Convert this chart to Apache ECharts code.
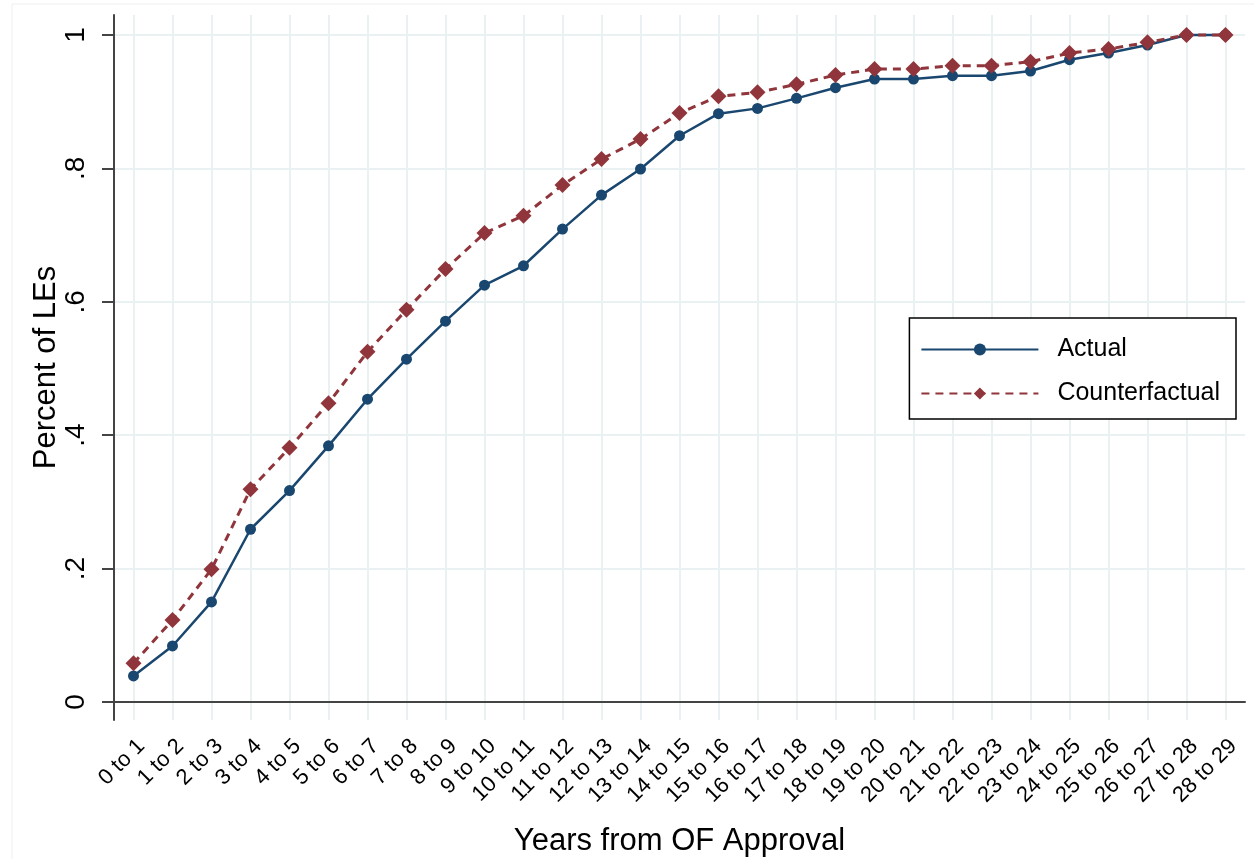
<!DOCTYPE html>
<html>
<head>
<meta charset="utf-8">
<script src="https://cdn.jsdelivr.net/npm/echarts@6/dist/echarts.min.js"></script>
<style>
html,body{margin:0;padding:0;background:#fff;}
#c{width:1254px;height:859px;}
</style>
</head>
<body>
<div id="c"></div>
<script>
const categories = ["0 to 1","1 to 2","2 to 3","3 to 4","4 to 5","5 to 6","6 to 7","7 to 8","8 to 9","9 to 10","10 to 11","11 to 12","12 to 13","13 to 14","14 to 15","15 to 16","16 to 17","17 to 18","18 to 19","19 to 20","20 to 21","21 to 22","22 to 23","23 to 24","24 to 25","25 to 26","26 to 27","27 to 28","28 to 29"];
const actual = [0.039,0.084,0.150,0.259,0.317,0.384,0.454,0.514,0.571,0.625,0.654,0.709,0.760,0.799,0.849,0.882,0.890,0.905,0.921,0.934,0.934,0.939,0.939,0.946,0.963,0.973,0.985,1.0,1.0];
const counterfactual = [0.058,0.123,0.199,0.319,0.381,0.448,0.525,0.588,0.649,0.703,0.729,0.775,0.814,0.844,0.883,0.908,0.914,0.926,0.940,0.949,0.949,0.954,0.954,0.960,0.973,0.979,0.989,1.0,1.0];
const yTicks = [0, 0.2, 0.4, 0.6, 0.8, 1];

const chart = echarts.init(document.getElementById('c'), null, {renderer:'canvas'});
const gridColor = '#e9f1f2';
const font = 'Liberation Sans, Arial, sans-serif';
chart.setOption({
  backgroundColor:'#ffffff',
  animation:false,
  graphic:[{type:'rect',shape:{x:12,y:4,width:1400,height:1000},style:{fill:'none',stroke:'#efefef',lineWidth:1},silent:true,z:-10}],
  grid:{left:114,right:9,top:15,bottom:139,containLabel:false,outerBoundsMode:'none'},
  legend:{
    right:18, top:318,
    orient:'vertical',
    backgroundColor:'#ffffff',
    borderColor:'#000000', borderWidth:1.5,
    padding:[19,16,13,11],
    itemWidth:117, itemHeight:15, itemGap:19,
    textStyle:{fontFamily:font,fontSize:25,color:'#000',padding:[0,0,0,14]},
    data:['Actual','Counterfactual']
  },
  xAxis:{
    type:'category',
    data:categories,
    boundaryGap:true,
    name:'Years from OF Approval',
    nameLocation:'middle',
    nameGap:106,
    nameMoveOverlap:false,
    nameTextStyle:{fontFamily:font,fontSize:31,color:'#000'},
    axisLine:{lineStyle:{color:'#444',width:2}},
    axisTick:{alignWithLabel:true,length:12,lineStyle:{color:'#444',width:2}},
    axisLabel:{interval:0,rotate:45,fontFamily:font,fontSize:22,color:'#000',margin:15,verticalAlign:'top'},
    splitLine:{show:true,alignWithLabel:true,lineStyle:{color:gridColor,width:2}}
  },
  yAxis:{
    type:'value',
    min:-0.027, max:1.03,
    name:'Percent of LEs',
    nameLocation:'middle',
    nameGap:52,
    nameMoveOverlap:false,
    nameTextStyle:{fontFamily:font,fontSize:31,color:'#000'},
    axisLine:{show:true,lineStyle:{color:'#444',width:2}},
    axisTick:{show:true,length:12,lineStyle:{color:'#444',width:2},customValues:yTicks},
    axisLabel:{rotate:90,fontFamily:font,fontSize:28,color:'#000',margin:24,customValues:yTicks,
      formatter:function(v){ if(Math.abs(v)<1e-9) return '0'; if(Math.abs(v-1)<1e-9) return '1'; return String(Math.round(v*10)/10).replace(/^0/,''); }},
    splitLine:{show:true,lineStyle:{color:gridColor,width:2},customValues:yTicks}
  },
  series:[
    {name:'Actual',type:'line',data:actual,symbol:'circle',symbolSize:11,
     lineStyle:{color:'#1a476f',width:2.5},itemStyle:{color:'#1a476f'}},
    {name:'Counterfactual',type:'line',data:counterfactual,symbol:'diamond',symbolSize:16,
     lineStyle:{color:'#90353b',width:3,type:[8,6]},itemStyle:{color:'#90353b'}}
  ]
});
</script>
</body>
</html>
